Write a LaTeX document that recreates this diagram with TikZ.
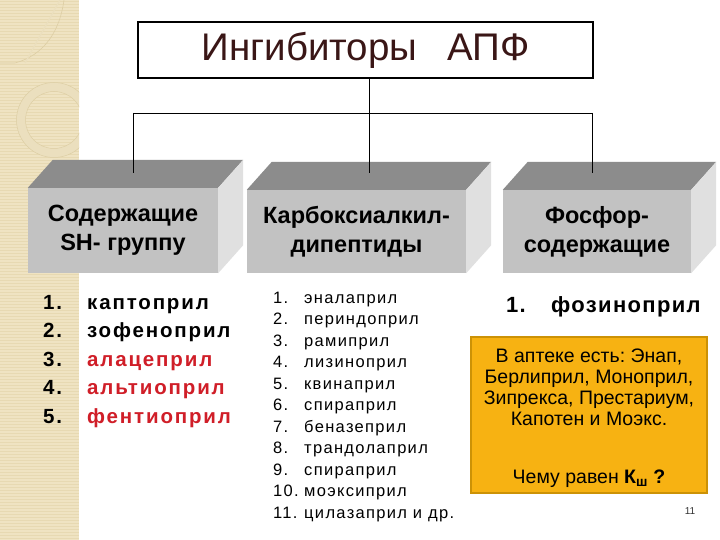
\documentclass[tikz,border=0pt]{standalone}
\usepackage{fontspec}
\setmainfont{Liberation Sans}
\definecolor{stripc}{HTML}{EFE3C2}
\definecolor{striplinec}{HTML}{E7D9B2}
\definecolor{decoc}{HTML}{EBDFBE}
\definecolor{decoedge}{HTML}{DDCEA4}
\definecolor{titlec}{HTML}{3A1616}
\definecolor{frontc}{HTML}{C2C2C2}
\definecolor{topc}{HTML}{8C8C8C}
\definecolor{sidec}{HTML}{E0E0E0}
\definecolor{redc}{HTML}{D01E28}
\definecolor{yellc}{HTML}{F7B212}
\definecolor{yelledge}{HTML}{CC9206}
\definecolor{pagec}{HTML}{333333}
\tikzset{
  titlebox/.style={draw=black, line width=1.3pt, fill=white, minimum width=455pt, minimum height=56pt, inner sep=0pt, text=titlec, font=\fontsize{38.5}{40}\selectfont},
  front/.style={fill=frontc, inner sep=0pt, align=center, font=\bfseries\fontsize{23.5}{29}\selectfont},
  topface/.style={fill=topc},
  sideface/.style={fill=sidec},
  conn/.style={draw=black, line width=0.8pt},
  leftitem/.style={anchor=base west, inner sep=0pt, font=\bfseries\fontsize{20.5}{24}\selectfont\addfontfeature{LetterSpace=9}},
  rightitem/.style={anchor=base west, inner sep=0pt, font=\bfseries\fontsize{22}{24}\selectfont\addfontfeature{LetterSpace=6}},
  miditem/.style={anchor=base west, inner sep=0pt, font=\fontsize{16.5}{18}\selectfont\addfontfeature{LetterSpace=8}},
  notebox/.style={fill=yellc, draw=yelledge, line width=1.2pt, minimum width=236pt, minimum height=156pt, inner sep=0pt},
  noteline/.style={anchor=base, inner sep=0pt, font=\fontsize{19.5}{21}\selectfont\frenchspacing},
}
\begin{document}
\begin{tikzpicture}[x=1pt,y=-1pt]
\useasboundingbox (0,0) rectangle (720,540);
\fill[white] (0,0) rectangle (720,540);
% decorative strip
\begin{scope}
\clip (0,0) rectangle (79,540);
\fill[stripc] (0,0) rectangle (79,540);
\foreach \yy in {1.5,4.5,...,540} \draw[striplinec, line width=0.9pt] (0,\yy) -- (79,\yy);
\draw[decoc, line width=9pt] (54,120) circle[radius=33];
\draw[decoedge, line width=0.5pt] (54,120) circle[radius=37.5];
\draw[decoedge, line width=0.5pt] (54,120) circle[radius=28.5];
\draw[decoedge, line width=0.6pt] (0,63) -- (15,63) .. controls (45,55) and (60,30) .. (64,0);
\draw[decoc, line width=1.2pt] (25,63) -- (60,0);
\end{scope}

% title
\node[titlebox] (title) at (365.5,50) {Ингибиторы\hspace{30pt}АПФ};

% 3D boxes
\node[front, minimum width=190pt, minimum height=85pt] (b1) at (123,230.5) {Содержащие\\SH- группу};
\node[front, minimum width=219pt, minimum height=83pt] (b2) at (356.5,231.5) {Карбоксиалкил-\\дипептиды};
\node[front, minimum width=188pt, minimum height=83pt] (b3) at (597,231.5) {Фосфор-\\содержащие};
\foreach \b in {b1,b2,b3}{
  \fill[topface] (\b.north west) -- ([shift={(25,-28)}]\b.north west) -- ([shift={(25,-28)}]\b.north east) -- (\b.north east) -- cycle;
  \fill[sideface] (\b.north east) -- ([shift={(25,-28)}]\b.north east) -- ([shift={(25,-28)}]\b.south east) -- (\b.south east) -- cycle;
}

% connectors
\coordinate (hub) at (369,113);
\coordinate (h1) at (133,113);
\coordinate (h3) at (592,113);
\coordinate (t1) at (133,173);
\coordinate (t2) at (369,173);
\coordinate (t3) at (592,173);
\draw[conn] (hub |- title.south) -- (hub);
\draw[conn] (h1) -- (h3);
\draw[conn] (h1) -- (t1);
\draw[conn] (hub) -- (t2);
\draw[conn] (h3) -- (t3);

% left list
\node[leftitem] (l1) at (43,309) {\makebox[44pt][l]{1.}каптоприл};
\node[leftitem] (l2) at (43,337.5) {\makebox[44pt][l]{2.}зофеноприл};
\node[leftitem] (l3) at (43,366) {\makebox[44pt][l]{3.}\textcolor{redc}{алацеприл}};
\node[leftitem] (l4) at (43,394.5) {\makebox[44pt][l]{4.}\textcolor{redc}{альтиоприл}};
\node[leftitem] (l5) at (43,423) {\makebox[44pt][l]{5.}\textcolor{redc}{фентиоприл}};

% middle list
\foreach \i/\t in {1/эналаприл,2/периндоприл,3/рамиприл,4/лизиноприл,5/квинаприл,6/спираприл,7/беназеприл,8/трандолаприл,9/спираприл,10/моэксиприл,11/цилазаприл и др.}{
  \node[miditem] (m\i) at (273,{303+21.5*(\i-1)}) {\makebox[31pt][l]{\i.}\t};
}

% right list
\node[rightitem] (r1) at (506,312) {\makebox[45pt][l]{1.}фозиноприл};

% note box
\node[notebox] (note) at (589,415) {};
\node[noteline] (n1) at (note.center |- 0,362) {В аптеке есть: Энап,};
\node[noteline] (n2) at (note.center |- 0,383) {Берлиприл, Моноприл,};
\node[noteline] (n3) at (note.center |- 0,404) {Зипрекса, Престариум,};
\node[noteline] (n4) at (note.center |- 0,425) {Капотен и Моэкс.};
\node[noteline] (n5) at (note.center |- 0,483) {Чему равен \textbf{К\textsubscript{ш}} \textbf{?}};

% page number
\node[inner sep=0pt, text=pagec, font=\fontsize{10}{12}\selectfont] (page) at (690,511) {11};
\end{tikzpicture}
\end{document}
